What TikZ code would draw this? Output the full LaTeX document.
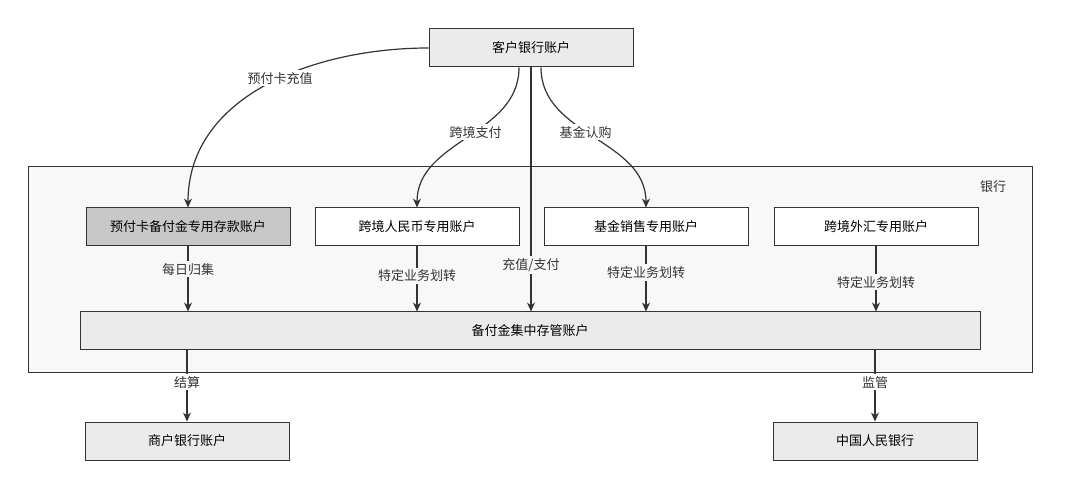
\documentclass[tikz,border=0pt]{standalone}
\usepackage{fontspec}
\setmainfont{Noto Sans CJK SC}
\usetikzlibrary{arrows.meta}
\definecolor{boxgray}{HTML}{EBEBEB}
\definecolor{darkbox}{HTML}{C8C8C8}
\definecolor{framebg}{HTML}{F8F8F8}
\definecolor{linecol}{HTML}{333333}
\tikzset{
  acct/.style={draw=linecol,line width=1pt,minimum width=204pt,minimum height=38pt,inner sep=0pt,font=\fontsize{13}{15}\selectfont},
  flow/.style={draw=linecol,line width=1.2pt,-{Stealth[length=9pt,width=8pt]}},
  lbl/.style={fill=#1,inner sep=2pt,font=\fontsize{13}{15}\selectfont,text=linecol},
}
\begin{document}
\begin{tikzpicture}[x=1pt,y=-1pt]
\fill[white] (0,0) rectangle (1080,489);
\useasboundingbox (0,0) rectangle (1080,489);
\filldraw[fill=framebg,draw=linecol,line width=1pt] (28,167) rectangle (1032,372);
\node[font=\fontsize{13}{15}\selectfont,text=linecol] at (993,187) {银行};

\node[acct,fill=boxgray] (cust) at (531,48) {客户银行账户};
\node[acct,fill=darkbox] (prepaid) at (188,227) {预付卡备付金专用存款账户};
\node[acct,fill=white] (cbrmb) at (417,227) {跨境人民币专用账户};
\node[acct,fill=white] (fund) at (646,227) {基金销售专用账户};
\node[acct,fill=white] (cbfx) at (876,227) {跨境外汇专用账户};
\node[acct,fill=boxgray,minimum width=900pt] (pool) at (530,331) {备付金集中存管账户};
\node[acct,fill=boxgray] (merchant) at (187,441) {商户银行账户};
\node[acct,fill=boxgray] (pboc) at (875,441) {中国人民银行};

% inflows
\draw[flow] (cust.west) to[out=180,in=90] node[lbl=white,pos=0.45] {预付卡充值} (prepaid.north);
\draw[flow] ([xshift=-12pt]cust.south) to[out=-90,in=90,looseness=1] node[lbl=white,pos=0.45] {跨境支付} (cbrmb.north);
\draw[flow] ([xshift=10pt]cust.south) to[out=-90,in=90,looseness=1] node[lbl=white,pos=0.45] {基金认购} (fund.north);
\draw[flow] (cust.south) -- node[lbl=framebg,pos=0.81] {充值/支付} (pool.north -| cust.south);

% transfers
\draw[flow] (prepaid.south) -- node[lbl=framebg,pos=0.35] {每日归集} (pool.north -| prepaid.south);
\foreach \n/\p in {cbrmb/0.45,fund/0.4,cbfx/0.55}
  \draw[flow] (\n.south) -- node[lbl=framebg,pos=\p] {特定业务划转} (pool.north -| \n.south);

% outflows
\draw[flow] (pool.south -| merchant.north) -- node[lbl=white,pos=0.45] {结算} (merchant.north);
\draw[flow] (pool.south -| pboc.north) -- node[lbl=white,pos=0.45] {监管} (pboc.north);
\end{tikzpicture}
\end{document}
